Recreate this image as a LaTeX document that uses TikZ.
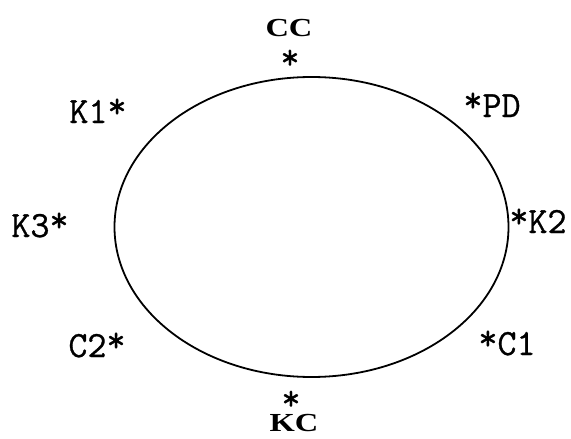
\documentclass[tikz,border=0pt]{standalone}
\usepackage{fontspec}
\newfontfamily\labfont[FakeBold=0.8]{Latin Modern Mono}
\newfontfamily\boldlab[FakeStretch=1.25]{Liberation Serif}
\newcommand{\rs}{\raisebox{0.14em}{*}}
\begin{document}
\begin{tikzpicture}[x=1pt,y=-1pt,
  lab/.style={inner sep=0pt, font=\labfont\fontsize{37}{37}\selectfont, anchor=base},
  big/.style={inner sep=0pt, font=\boldlab\bfseries\fontsize{26}{26}\selectfont, anchor=base}]
\useasboundingbox[fill=white] (0,0) rectangle (571,439);
\coordinate (ctr) at (311.5,227);
\draw[line width=1.8pt] (ctr) ellipse [x radius=197, y radius=150];
\node[big] (cc) at (289,36) {CC};
\node[lab] (cstar) at (290,69) {\smash{*}};
\node[lab] (k1) at (98,123) {K1\rs};
\node[lab] (pd) at (492,117) {\rs PD};
\node[lab] (k3) at (40,237) {K3\rs};
\node[lab] (k2) at (538,233) {\rs K2};
\node[lab] (c2) at (97,357) {C2\rs};
\node[lab] (c1) at (507,355) {\rs C1};
\node[lab] (kstar) at (291,410) {\smash{*}};
\node[big] (kc) at (294,431) {KC};
\end{tikzpicture}
\end{document}
